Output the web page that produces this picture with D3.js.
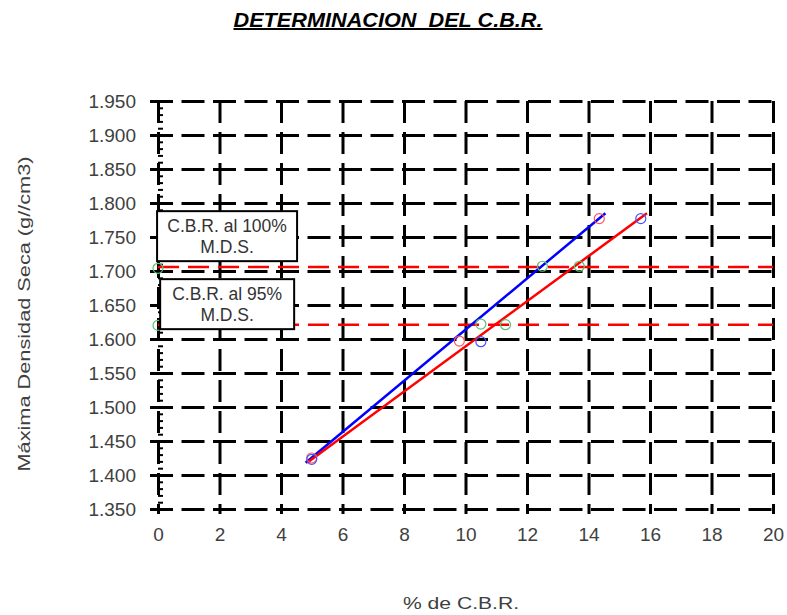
<!DOCTYPE html>
<html>
<head>
<meta charset="utf-8">
<script src="https://cdn.jsdelivr.net/npm/d3@7"></script>
<style>
  body { margin: 0; background: #fff; }
  svg { font-family: Arial, "Liberation Sans", sans-serif; }
</style>
</head>
<body>
<svg id="chart" width="787" height="615"></svg>
<script>
// values
var yTicks = [1.35, 1.40, 1.45, 1.50, 1.55, 1.60, 1.65, 1.70, 1.75, 1.80, 1.85, 1.90, 1.95]
var xTicks = [0, 2, 4, 6, 8, 10, 12, 14, 16, 18, 20]
var blueLine = [[4.8, 1.418], [14.55, 1.785]]
var redLine = [[4.85, 1.418], [15.9, 1.785]]
var redPoints = [[5.0, 1.425], [9.8, 1.597], [14.35, 1.777]]
var bluePoints = [[5.0, 1.423], [10.5, 1.596], [15.7, 1.777]]
var greenPoints = [[0, 1.704], [0, 1.620], [10.5, 1.622], [11.3, 1.621], [12.5, 1.707], [13.7, 1.707]]
var limitLevels = [1.706, 1.621] // 100% and 95% M.D.S.
var boxLabels = [['C.B.R. al 100%', 'M.D.S.'], ['C.B.R. al 95%', 'M.D.S.']]

// where the note boxes sit (data units) and how wide they are
var boxLayout = [{x: -0.03, y: 1.788, w: 140}, {x: 0.07, y: 1.688, w: 134}]

var svg = d3.select('#chart')

var x = d3.scaleLinear().domain([0, 20]).range([158, 773])
var y = d3.scaleLinear().domain([1.35, 1.95]).range([509, 101])

// title (two spaces kept)
svg.append('text')
  .attr('x', 388).attr('y', 27)
  .attr('text-anchor', 'middle')
  .style('white-space', 'pre')
  .style('font-size', '20px')
  .style('font-weight', 'bold')
  .style('font-style', 'italic')
  .style('text-decoration', 'underline')
  .attr('textLength', 309)
  .attr('lengthAdjust', 'spacingAndGlyphs')
  .text('DETERMINACION  DEL C.B.R.')

// vertical dashed grid + x tick labels
var xAxis = svg.append('g')
  .attr('transform', 'translate(0,101)')
  .call(d3.axisBottom(x).tickValues(xTicks).tickSize(413).tickPadding(14).tickFormat(d3.format('d')))
xAxis.select('.domain').remove()
xAxis.selectAll('.tick line')
  .attr('stroke', '#000').attr('stroke-width', 3)
  .attr('stroke-dasharray', '22,9')
xAxis.selectAll('.tick text')
  .attr('fill', '#404040').style('font-size', '19px').style('font-family', 'Arial, "Liberation Sans", sans-serif')

// horizontal dashed grid + y tick labels
var yAxis = svg.append('g')
  .attr('transform', 'translate(150,0)')
  .call(d3.axisLeft(y).tickValues(yTicks).tickSize(-623).tickPadding(14).tickFormat(d3.format('.3f')))
yAxis.select('.domain').remove()
yAxis.selectAll('.tick line')
  .attr('stroke', '#000').attr('stroke-width', 3)
  .attr('stroke-dasharray', '23,8.5')
yAxis.selectAll('.tick text')
  .attr('fill', '#404040').style('font-size', '19px').style('font-family', 'Arial, "Liberation Sans", sans-serif')

// minor ticks on the left axis
var minor = d3.range(135, 196).map(function (d) { return d / 100 }).filter(function (d) { return Math.round(d * 100) % 5 != 0 })
var yMinor = svg.append('g')
  .attr('transform', 'translate(158,0)')
  .call(d3.axisRight(y).tickValues(minor).tickSize(5).tickFormat(''))
yMinor.select('.domain').remove()
yMinor.selectAll('.tick line').attr('stroke', '#000').attr('stroke-width', 2)

// red dashed limit lines
svg.selectAll('.limit')
  .data(limitLevels)
  .enter().append('line')
  .attr('class', 'limit')
  .attr('x1', x(0)).attr('x2', x(20))
  .attr('y1', d => y(d)).attr('y2', d => y(d))
  .attr('stroke', '#ff0000').attr('stroke-width', 2.5)
  .attr('stroke-dasharray', '21,9')

var line = d3.line().x(d => x(d[0])).y(d => y(d[1]))

svg.append('path').datum(blueLine)
  .attr('d', line).attr('fill', 'none')
  .attr('stroke', '#0000ff').attr('stroke-width', 2.5)
svg.append('path').datum(redLine)
  .attr('d', line).attr('fill', 'none')
  .attr('stroke', '#ff0000').attr('stroke-width', 2.5)

function markers(data, color) {
  svg.append('g').selectAll('circle')
    .data(data)
    .enter().append('circle')
    .attr('cx', d => x(d[0])).attr('cy', d => y(d[1]))
    .attr('r', 5)
    .attr('fill', 'none')
    .attr('stroke', color).attr('stroke-width', 1.2)
}
markers(greenPoints, '#5cc07a')
markers(redPoints, '#ff5555')
markers(bluePoints, '#4455ff')

// annotation boxes
boxLabels.forEach(function (lines, i) {
  var b = boxLayout[i]
  var g = svg.append('g').attr('transform', `translate(${x(b.x)},${y(b.y)})`)
  g.append('rect')
    .attr('width', b.w).attr('height', 50)
    .attr('fill', '#fff').attr('stroke', '#000').attr('stroke-width', 2)
  g.selectAll('text')
    .data(lines)
    .enter().append('text')
    .attr('x', b.w / 2).attr('y', (d, j) => 21 + j * 21)
    .attr('text-anchor', 'middle')
    .attr('fill', '#333')
    .style('font-size', '17.5px')
    .text(d => d)
})

// axis titles
svg.append('text')
  .attr('transform', 'translate(30,314) rotate(-90)')
  .attr('text-anchor', 'middle')
  .attr('fill', '#404040')
  .style('font-size', '17px')
  .attr('textLength', 315)
  .attr('lengthAdjust', 'spacingAndGlyphs')
  .text('Máxima Densidad Seca (g//cm3)')

svg.append('text')
  .attr('x', 461).attr('y', 609)
  .attr('text-anchor', 'middle')
  .attr('fill', '#404040')
  .style('font-size', '17px')
  .attr('textLength', 116)
  .attr('lengthAdjust', 'spacingAndGlyphs')
  .text('% de C.B.R.')
</script>
</body>
</html>
